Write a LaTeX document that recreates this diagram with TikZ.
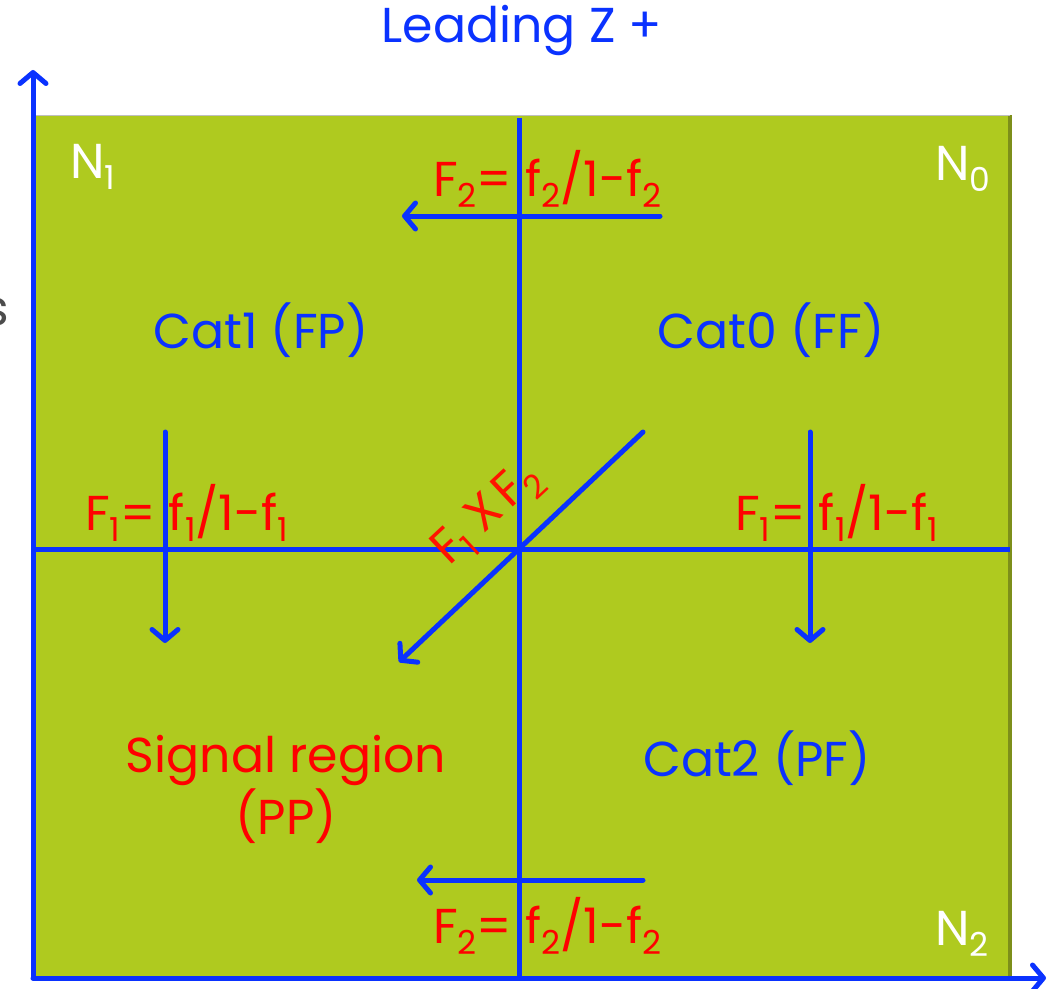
\documentclass[tikz,border=0pt]{standalone}
\usepackage{fontspec}
\setmainfont{Poppins}
\usetikzlibrary{arrows.meta}
\definecolor{olive}{RGB}{175,202,31}
\definecolor{oliveshadow}{RGB}{125,143,26}
\definecolor{axisblue}{RGB}{10,50,255}
\definecolor{redtxt}{RGB}{255,0,0}
\newcommand\lo[1]{\raisebox{-11pt}{\fontsize{33}{33}\selectfont #1}}
\tikzset{
  x=1pt,y=-1pt,
  ln/.style={draw=axisblue,line width=5pt},
  arr/.style={ln,line cap=round,-{Straight Barb[length=11pt,width=26pt,line cap=round,line join=round]}},
  bluetxt/.style={text=axisblue,font=\fontsize{49}{62}\selectfont,inner sep=0pt},
  redlbl/.style={text=redtxt,font=\fontsize{49}{62}\selectfont,inner sep=0pt},
  corner/.style={text=white,font=\fontsize{49}{62}\selectfont,inner sep=0pt},
}
\begin{document}
\begin{tikzpicture}
\useasboundingbox (0,0) rectangle (1052,988);
\fill[white] (0,0) rectangle (1052,988);
% panel
\fill[oliveshadow] (33,115) rectangle (1012,980);
\fill[olive] (33,115) rectangle (1008,976);
\draw[gray!50,line width=1pt] (33,115) -- (1010,115);
% cut-off side text
\node[text=black!70,font=\fontsize{49}{62}\selectfont,anchor=east,inner sep=0pt] (side) at (9,312) {s};
% coordinates
\coordinate (vtop) at (519,118);
\coordinate (vbot) at (519,978);
\coordinate (hl) at (33,549);
\coordinate (hr) at (1010,549);
\coordinate (origin) at (33,978);
\coordinate (ytip) at (33,70);
\coordinate (xtip) at (1046,978);
% grid lines
\draw[ln] (vtop) -- (vbot);
\draw[ln] (hl) -- (hr);
% axes
\draw[arr] (origin) -- (ytip);
\draw[arr] (origin) -- (xtip);
% arrows
\coordinate (t1) at (660,216); \coordinate (t2) at (402,216);
\coordinate (b1) at (643,880); \coordinate (b2) at (417,880);
\coordinate (l1) at (165,432); \coordinate (l2) at (165,643);
\coordinate (r1) at (810,432); \coordinate (r2) at (810,643);
\coordinate (d1) at (643,432); \coordinate (d2) at (399,662);
\draw[arr] (t1) -- (t2);
\draw[arr] (b1) -- (b2);
\draw[arr] (l1) -- (l2);
\draw[arr] (r1) -- (r2);
\draw[arr] (d1) -- (d2);
% texts
\node[bluetxt] (title) at (522,30) {Leading Z +};
\node[corner,anchor=base west] (n1) at (70,178) {N\lo{1}};
\node[corner,anchor=base west] (n0) at (935,180) {N\lo{0}};
\node[corner,anchor=base west] (n2) at (935,945) {N\lo{2}};
\node[redlbl,anchor=base west] (ftop) at (433,196) {F\lo{2}= f\lo{2}/1-f\lo{2}};
\node[redlbl,anchor=base west] (fbot) at (433,943) {F\lo{2}= f\lo{2}/1-f\lo{2}};
\node[redlbl,anchor=base west] (fl) at (85,530) {F\lo{1}= f\lo{1}/1-f\lo{1}};
\node[redlbl,anchor=base west] (fr) at (735,530) {F\lo{1}= f\lo{1}/1-f\lo{1}};
\node[bluetxt] (cat1) at (261,330) {Cat1 (FP)};
\node[bluetxt] (cat0) at (771,330) {Cat0 (FF)};
\node[bluetxt] (cat2) at (757,758) {Cat2 (PF)};
\node[redlbl,align=center] (sig) at (286,789) {Signal region\\(PP)};
\node[redlbl,text=red!85!orange,rotate=43] (fx) at (488,515) {F\lo{1}\hspace{12pt}X\hspace{6pt}F\lo{2}};
\end{tikzpicture}
\end{document}
